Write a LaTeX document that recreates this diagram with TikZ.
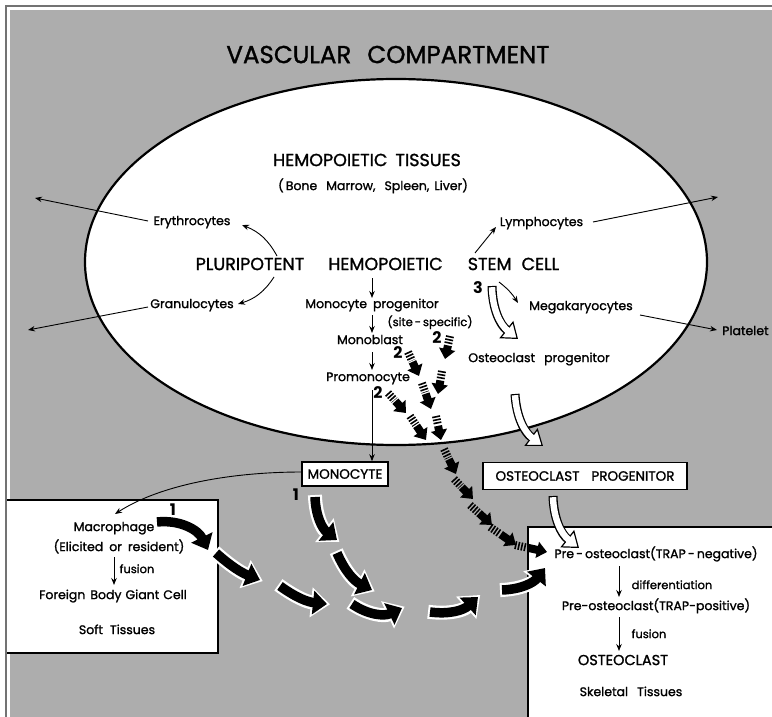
\documentclass[tikz,border=0pt]{standalone}
\usepackage{fontspec}
\setmainfont{Poppins}[UprightFeatures={FakeBold=1.3}]
\usetikzlibrary{arrows.meta,calc,shapes.geometric}

\definecolor{stipple}{gray}{0.68}

% striped (site-specific) arrow: three bars, then a solid shaft and head
\newcommand{\hatcharrow}[2]{%
  \draw[line width=8pt, dash pattern=on 1.6pt off 1.5pt] (#1) -- ($(#1)!0.36!(#2)$);
  \draw[line width=8pt, -{Triangle[width=16pt,length=10pt]}] ($(#1)!0.41!(#2)$) -- (#2);
}
% heavy black curved arrow with a white rim
\newcommand{\fatarrow}[3]{%
  \draw[white, line width=14pt, shorten <=-2pt, shorten >=-3pt, -{Triangle[width=29pt,length=19pt]}] (#1) to[#3] (#2);
  \draw[black, line width=9.5pt, -{Triangle[width=23pt,length=14pt]}] (#1) to[#3] (#2);
}
% open (white) curved arrow
\newcommand{\openarrow}[3]{%
  \draw[line width=9pt, -{Triangle[open,fill=white,line width=1.2pt,width=22pt,length=15pt]}] (#1) to[#3] (#2);
  \draw[white, line width=6.4pt, shorten <=1.2pt, shorten >=13pt] (#1) to[#3] (#2);
}

\begin{document}
\begin{tikzpicture}[x=1pt,y=-1pt,
  txt/.style={inner sep=0pt, text height=0.62em, text depth=0pt},
  big/.style={txt, font=\fontsize{24.5}{28}\selectfont},
  caps/.style={txt, font=\fontsize{17.5}{20}\selectfont},
  lbl/.style={txt, font=\fontsize{12.5}{14}\selectfont},
  small/.style={txt, font=\fontsize{11.5}{13}\selectfont},
  num/.style={txt, font=\fontsize{16}{18}\selectfont\bfseries},
  boxed/.style={draw, line width=1.6pt, fill=white, inner sep=0pt, font=\fontsize{13.5}{15}\selectfont},
  thin/.style={line width=0.9pt, -{Stealth[length=7pt,width=5.5pt]}},
  frame/.style={line width=1.6pt, black},
]
\useasboundingbox (0,0) rectangle (772,717);

% page frame and vascular background
\fill[white] (0,0) rectangle (772,717);
\draw[line width=1.4pt, black!55] (6,717) -- (6,6) -- (772,6);
\fill[stipple] (10,10) rectangle (772,717);

% tissue compartments
\fill[white] (7,500) rectangle (218,653);
\draw[frame] (7,500) -- (218,500) -- (218,653) -- (7,653);
\fill[white] (528,527) rectangle (772,717);
\draw[frame] (528,717) -- (528,527) -- (772,527);

% hemopoietic tissues
\node[ellipse, draw, line width=2.2pt, fill=white, minimum width=622pt, minimum height=366pt, inner sep=0pt] (marrow) at (396,262) {};

% labels
\node[big] (vasc) at (388,60) {VASCULAR\hspace{16pt}COMPARTMENT};
\node[caps] (hemtis) at (367,163) {HEMOPOIETIC\hspace{8pt}TISSUES};
\node[lbl] (bml) at (373,187) {(\,Bone\hspace{9pt}Marrow,\hspace{9pt}Spleen,\hspace{5pt}Liver)};
\node[lbl] (ery) at (192,222) {Erythrocytes};
\node[lbl] (gran) at (192,305) {Granulocytes};
\node[caps] (plu) at (250,267) {PLURIPOTENT};
\node[caps] (hemo) at (385.5,267) {HEMOPOIETIC};
\node[caps] (stem) at (513.5,267) {STEM\hspace{10pt}CELL};
\node[lbl] (lym) at (541.5,223) {Lymphocytes};
\node[lbl] (mega) at (581,307) {Megakaryocytes};
\node[lbl, anchor=west] (plat) at (722,332) {Platelet};
\node[lbl] (mprog) at (372,305) {Monocyte\hspace{6pt}progenitor};
\node[small] (site) at (430,323) {(site\,-\,specific)};
\node[lbl] (mblast) at (370,341) {Monoblast};
\node[lbl] (promono) at (368,378) {Promonocyte};
\node[lbl] (oprog) at (539,359) {Osteoclast\hspace{9pt}progenitor};
\node[num] (n2a) at (437,340) {2};
\node[num] (n2b) at (398,355) {2};
\node[num] (n2c) at (378,395) {2};
\node[num] (n3) at (478,290) {3};
\node[num] (n1a) at (296,497) {1};
\node[num] (n1b) at (173,512) {1};
\node[boxed, minimum width=86pt, minimum height=24pt] (mono) at (345,474) {MONOCYTE};
\node[boxed, minimum width=204pt, minimum height=27pt] (obox) at (585,476) {OSTEOCLAST\hspace{12pt}PROGENITOR};
\node[lbl] (macro) at (114,528) {Macrophage};
\node[lbl] (elic) at (119,548) {(Elicited\hspace{6pt}or\hspace{6pt}resident)};
\node[small] (fus1) at (137,570) {fusion};
\node[lbl] (fbgc) at (113,596) {Foreign\hspace{5pt}Body\hspace{4pt}Giant\hspace{4pt}Cell};
\node[lbl] (soft) at (117,631) {Soft\hspace{7pt}Tissues};
\node[lbl] (preneg) at (656,555) {Pre\,-\,osteoclast(TRAP\,-\,negative)};
\node[small] (diff) at (672,586) {differentiation};
\node[lbl] (prepos) at (656,607) {Pre-osteoclast(TRAP-positive)};
\node[small] (fus2) at (649,635) {fusion};
\node[txt, font=\fontsize{14.5}{16}\selectfont] (ocl) at (623,662) {OSTEOCLAST};
\node[lbl] (skel) at (631,693) {Skeletal\hspace{9pt}Tissues};

% end points of the thin arrows
\coordinate (pluE) at (277,256);  \coordinate (eryIn) at (242,225);
\coordinate (pluG) at (274,277);  \coordinate (granIn) at (238,304);
\coordinate (eryOut) at (148,221); \coordinate (eryFar) at (35,198);
\coordinate (granOut) at (148,307); \coordinate (granFar) at (28,330);
\coordinate (stemL) at (475,253); \coordinate (lymIn) at (496,227);
\coordinate (lymOut) at (593,222); \coordinate (lymFar) at (718,197);
\coordinate (stemM) at (499,282); \coordinate (megaIn) at (518,303);
\coordinate (megaOut) at (640,315); \coordinate (platIn) at (717,330);
\coordinate (c1) at (372,278); \coordinate (c2) at (372,298);
\coordinate (c3) at (372,315); \coordinate (c4) at (372,333);
\coordinate (c5) at (372,352); \coordinate (c6) at (372,370);
\coordinate (c7) at (372,390);
\coordinate (monoL) at (302,472); \coordinate (macroIn) at (115,514);
\coordinate (f1a) at (114,557); \coordinate (f1b) at (114,585);
\coordinate (d1a) at (619,566); \coordinate (d1b) at (619,597);
\coordinate (f2a) at (619,617); \coordinate (f2b) at (619,651);

\draw[thin] (pluE) to[bend right=20] (eryIn);
\draw[thin] (pluG) to[bend left=20] (granIn);
\draw[thin] (eryOut) -- (eryFar);
\draw[thin] (granOut) -- (granFar);
\draw[thin] (stemL) -- (lymIn);
\draw[thin] (lymOut) -- (lymFar);
\draw[thin] (stemM) to[bend left=10] (megaIn);
\draw[thin] (megaOut) -- (platIn);
\draw[thin] (c1) -- (c2);
\draw[thin] (c3) -- (c4);
\draw[thin] (c5) -- (c6);
\draw[thin] (c7) -- (c7 |- mono.north);
\draw[thin] (monoL) .. controls (230,472) and (160,485) .. (macroIn);
\draw[thin] (f1a) -- (f1b);
\draw[thin] (d1a) -- (d1b);
\draw[thin] (f2a) -- (f2b);

% site-specific striped arrows
\coordinate (a1s) at (450,336); \coordinate (a1e) at (445,359);
\coordinate (a2s) at (442,371); \coordinate (a2e) at (438,394);
\coordinate (a3s) at (436,416); \coordinate (a3e) at (441,440);
\coordinate (b1s) at (408,352); \coordinate (b1e) at (419,376);
\coordinate (b2s) at (422,383); \coordinate (b2e) at (431,409);
\coordinate (k1s) at (388,393); \coordinate (k1e) at (406,413);
\coordinate (k2s) at (410,416); \coordinate (k2e) at (426,440);
\coordinate (d1s) at (444,449); \coordinate (d1e) at (456,474);
\coordinate (d2s) at (454,479); \coordinate (d2e) at (473,499);
\coordinate (d3s) at (470,505); \coordinate (d3e) at (492,525);
\coordinate (d4s) at (490,527); \coordinate (d4e) at (516,545);
\coordinate (d5s) at (515,545); \coordinate (d5e) at (547,552);
\foreach \s/\e in {a1s/a1e,a2s/a2e,a3s/a3e,b1s/b1e,b2s/b2e,k1s/k1e,k2s/k2e,d1s/d1e,d2s/d2e,d3s/d3e,d4s/d4e,d5s/d5e}
  {\hatcharrow{\s}{\e}}

% open arrows from the stem cell to the osteoclast
\coordinate (w1s) at (492,286); \coordinate (w1e) at (518,339);
\coordinate (w2s) at (515,394); \coordinate (w2e) at (543,446);
\coordinate (w3s) at (553,496); \coordinate (w3e) at (579,548);
\openarrow{w1s}{w1e}{bend right=25}
\openarrow{w2s}{w2e}{bend right=25}
\openarrow{w3s}{w3e}{bend right=25}

% monocyte / macrophage route
\coordinate (m1s) at (157,522); \coordinate (m1e) at (208,550);
\coordinate (m2s) at (216,553); \coordinate (m2e) at (260,580);
\coordinate (m3s) at (280,586); \coordinate (m3e) at (327,604);
\coordinate (m4s) at (352,604); \coordinate (m4e) at (402,608);
\coordinate (m5s) at (430,612); \coordinate (m5e) at (478,597);
\coordinate (m6s) at (502,590); \coordinate (m6e) at (545,568);
\coordinate (n1s) at (315,497); \coordinate (n1e) at (337,540);
\coordinate (n2s) at (337,553); \coordinate (n2e) at (372,590);
\fatarrow{m1s}{m1e}{bend left=35}
\fatarrow{m2s}{m2e}{bend right=10}
\fatarrow{m3s}{m3e}{bend right=15}
\fatarrow{m4s}{m4e}{bend right=30}
\fatarrow{m5s}{m5e}{bend right=25}
\fatarrow{m6s}{m6e}{bend right=25}
\fatarrow{n1s}{n1e}{bend right=25}
\fatarrow{n2s}{n2e}{bend right=20}
\end{tikzpicture}
\end{document}
